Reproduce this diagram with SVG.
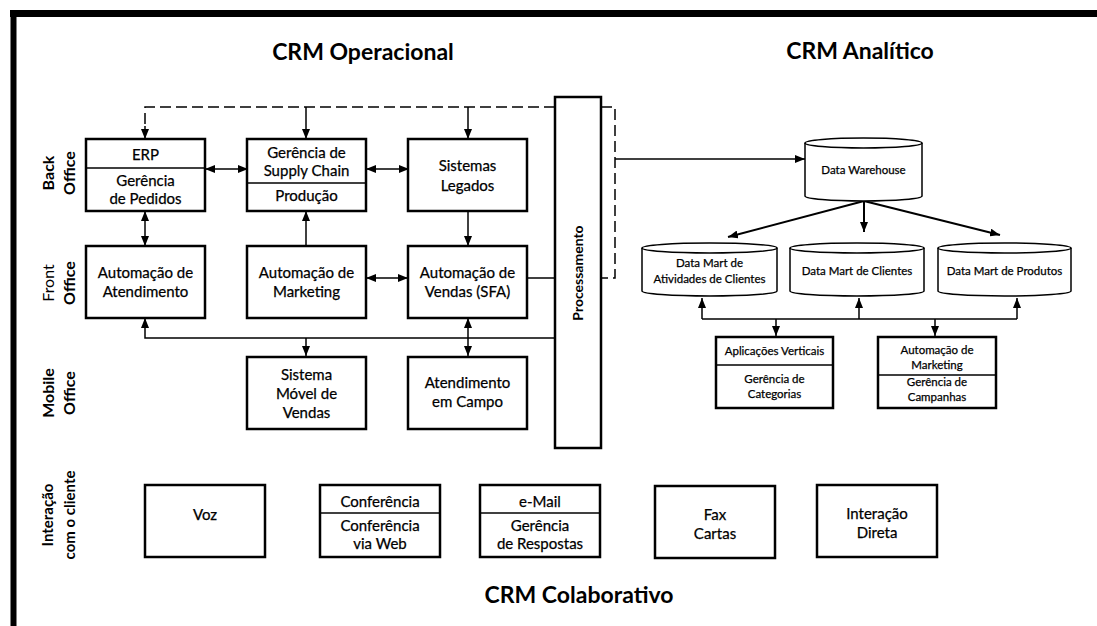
<svg xmlns="http://www.w3.org/2000/svg" width="1097" height="626" viewBox="0 0 1097 626">
<style>
.t{font-family:Lato,"Liberation Sans",sans-serif;font-size:15px;text-anchor:middle;fill:#000;stroke:#000;stroke-width:0.25}
.s{font-size:11.5px}
.h{font-family:Lato,"Liberation Sans",sans-serif;font-size:23px;font-weight:bold;text-anchor:middle;fill:#000}
.lab{font-family:Lato,"Liberation Sans",sans-serif;font-size:16px;font-weight:bold;text-anchor:middle;fill:#000}
.box{fill:#fff;stroke:#000;stroke-width:2.5}
.sbox{fill:#fff;stroke:#000;stroke-width:2.5}
.div{stroke:#000;stroke-width:1.5}
.ln{stroke:#000;stroke-width:1.5;fill:none}
.dash{stroke:#000;stroke-width:1.5;fill:none;stroke-dasharray:11 5}
.cyl{fill:#fff;stroke:#000;stroke-width:1.5}
</style>
<defs>
<marker id="ah" viewBox="0 0 10 8" refX="10" refY="4" markerWidth="10" markerHeight="8" markerUnits="userSpaceOnUse" orient="auto-start-reverse">
<path d="M0,0 L10,4 L0,8 z" fill="#000"/>
</marker>
</defs>
<rect x="0" y="0" width="1097" height="626" fill="#fff"/>
<g id="frame">
<line x1="10" y1="13.5" x2="1097" y2="13.5" stroke="#000" stroke-width="7"/>
<line x1="13.5" y1="10" x2="13.5" y2="626" stroke="#000" stroke-width="6"/>
</g>
<g id="titles">
<text class="h" x="363" y="60">CRM Operacional</text>
<text class="h" x="860" y="59">CRM Analítico</text>
<text class="h" x="579" y="603">CRM Colaborativo</text>
</g>
<g id="side-labels">
<text class="lab" transform="translate(54,173) rotate(-90)"><tspan x="0" y="0">Back</tspan><tspan x="0" y="21">Office</tspan></text>
<text class="lab" style="font-weight:normal" transform="translate(54,283) rotate(-90)"><tspan x="0" y="0">Front</tspan><tspan x="0" y="21" style="font-weight:bold">Office</tspan></text>
<text class="lab" transform="translate(54,393) rotate(-90)"><tspan x="0" y="0">Mobile</tspan><tspan x="0" y="21">Office</tspan></text>
<text class="lab" style="font-size:15px" transform="translate(53,515) rotate(-90)"><tspan x="0" y="0">Interação</tspan><tspan x="0" y="22">com o cliente</tspan></text>
</g>
<g id="connectors">
<path class="dash" d="M555,107 H145 V128"/>
<line class="ln" x1="145" y1="126" x2="145" y2="139" marker-end="url(#ah)"/>
<line class="ln" x1="306" y1="107" x2="306" y2="139" marker-end="url(#ah)"/>
<line class="ln" x1="468" y1="107" x2="468" y2="139" marker-end="url(#ah)"/>
<path class="dash" d="M601,107 H615 V278 H601"/>
<line class="ln" x1="615" y1="159" x2="805" y2="159" marker-end="url(#ah)"/>
<line class="ln" x1="205" y1="169" x2="248" y2="169" marker-start="url(#ah)" marker-end="url(#ah)"/>
<line class="ln" x1="366" y1="169" x2="409" y2="169" marker-start="url(#ah)" marker-end="url(#ah)"/>
<line class="ln" x1="145" y1="211" x2="145" y2="246" marker-start="url(#ah)" marker-end="url(#ah)"/>
<line class="ln" x1="306" y1="246" x2="306" y2="211" marker-end="url(#ah)"/>
<line class="ln" x1="468" y1="211" x2="468" y2="246" marker-end="url(#ah)"/>
<line class="ln" x1="366" y1="278" x2="408" y2="278" marker-start="url(#ah)" marker-end="url(#ah)"/>
<line class="ln" x1="527" y1="278" x2="555" y2="278"/>
<path class="ln" d="M555,338 H145 V318" marker-end="url(#ah)"/>
<line class="ln" x1="306" y1="338" x2="306" y2="356" marker-end="url(#ah)"/>
<line class="ln" x1="468" y1="318" x2="468" y2="356" marker-start="url(#ah)" marker-end="url(#ah)"/>
<line class="ln" style="stroke-width:2" x1="864" y1="201" x2="728" y2="237" marker-end="url(#ah)"/>
<line class="ln" style="stroke-width:2" x1="864" y1="201" x2="864" y2="232" marker-end="url(#ah)"/>
<line class="ln" style="stroke-width:2" x1="864" y1="201" x2="1000" y2="235" marker-end="url(#ah)"/>
<path class="ln" d="M702,319 H1017"/>
<line class="ln" x1="702" y1="319" x2="702" y2="298" marker-end="url(#ah)"/>
<line class="ln" x1="859" y1="319" x2="859" y2="298" marker-end="url(#ah)"/>
<line class="ln" x1="1017" y1="319" x2="1017" y2="298" marker-end="url(#ah)"/>
<line class="ln" x1="776" y1="319" x2="776" y2="336" marker-end="url(#ah)"/>
<line class="ln" x1="935" y1="319" x2="935" y2="336" marker-end="url(#ah)"/>
</g>
<g id="processamento">
<rect class="box" x="555" y="97" width="46" height="351"/>
<text class="t" style="font-size:14px;font-weight:bold;stroke-width:0" transform="translate(583,273) rotate(-90)">Processamento</text>
</g>
<g id="erp">
<rect class="box" x="86" y="139" width="119" height="72"/>
<line class="div" x1="86" y1="168" x2="205" y2="168"/>
<text class="t" x="145.5" y="160">ERP</text>
<text class="t" x="145.5" y="186">Gerência</text>
<text class="t" x="145.5" y="204">de Pedidos</text>
</g>
<g id="supply-chain">
<rect class="box" x="247" y="139" width="119" height="72"/>
<line class="div" x1="247" y1="183" x2="366" y2="183"/>
<text class="t" x="306.5" y="158">Gerência de</text>
<text class="t" x="306.5" y="176">Supply Chain</text>
<text class="t" x="306.5" y="201">Produção</text>
</g>
<g id="legados">
<rect class="box" x="408" y="139" width="119" height="72"/>
<text class="t" x="467.5" y="171">Sistemas</text>
<text class="t" x="467.5" y="191">Legados</text>
</g>
<g id="atendimento">
<rect class="box" x="86" y="246" width="119" height="72"/>
<text class="t" x="145.5" y="278">Automação de</text>
<text class="t" x="145.5" y="297">Atendimento</text>
</g>
<g id="marketing">
<rect class="box" x="247" y="246" width="119" height="72"/>
<text class="t" x="306.5" y="278">Automação de</text>
<text class="t" x="306.5" y="297">Marketing</text>
</g>
<g id="vendas">
<rect class="box" x="408" y="246" width="119" height="72"/>
<text class="t" x="467.5" y="278">Automação de</text>
<text class="t" x="467.5" y="297">Vendas (SFA)</text>
</g>
<g id="movel">
<rect class="box" x="247" y="357" width="119" height="72"/>
<text class="t" x="306.5" y="380">Sistema</text>
<text class="t" x="306.5" y="399">Móvel de</text>
<text class="t" x="306.5" y="418">Vendas</text>
</g>
<g id="campo">
<rect class="box" x="408" y="357" width="119" height="72"/>
<text class="t" x="467.5" y="388">Atendimento</text>
<text class="t" x="467.5" y="407">em Campo</text>
</g>
<g id="data-warehouse">
<path class="cyl" d="M805,143 V196 A58.5,5 0 0 0 922,196 V143"/>
<ellipse class="cyl" cx="863.5" cy="143" rx="58.5" ry="5"/>
<text class="t s" x="863.5" y="174">Data Warehouse</text>
</g>
<g id="dm-atividades">
<path class="cyl" d="M642,248 V291 A67.5,5 0 0 0 777,291 V248"/>
<ellipse class="cyl" cx="709.5" cy="248" rx="67.5" ry="5"/>
<text class="t s" x="709.5" y="267">Data Mart de</text>
<text class="t s" x="709.5" y="283">Atividades de Clientes</text>
</g>
<g id="dm-clientes">
<path class="cyl" d="M790,248 V291 A67,5 0 0 0 924,291 V248"/>
<ellipse class="cyl" cx="857" cy="248" rx="67" ry="5"/>
<text class="t s" x="857" y="275">Data Mart de Clientes</text>
</g>
<g id="dm-produtos">
<path class="cyl" d="M938,248 V291 A66.5,5 0 0 0 1071,291 V248"/>
<ellipse class="cyl" cx="1004.5" cy="248" rx="66.5" ry="5"/>
<text class="t s" x="1004.5" y="275">Data Mart de Produtos</text>
</g>
<g id="aplicacoes">
<rect class="sbox" x="716" y="337" width="117" height="71"/>
<line class="div" x1="716" y1="365" x2="833" y2="365"/>
<text class="t s" x="774.5" y="355">Aplicações Verticais</text>
<text class="t s" x="774.5" y="383">Gerência de</text>
<text class="t s" x="774.5" y="398">Categorias</text>
</g>
<g id="automacao-mkt">
<rect class="sbox" x="878" y="337" width="118" height="71"/>
<line class="div" x1="878" y1="375" x2="996" y2="375"/>
<text class="t s" x="937" y="354">Automação de</text>
<text class="t s" x="937" y="369">Marketing</text>
<text class="t s" x="937" y="386">Gerência de</text>
<text class="t s" x="937" y="401">Campanhas</text>
</g>
<g id="voz">
<rect class="box" x="145" y="485" width="120" height="72"/>
<text class="t" x="205" y="520">Voz</text>
</g>
<g id="conferencia">
<rect class="box" x="320" y="485" width="120" height="72"/>
<line class="div" x1="320" y1="513" x2="440" y2="513"/>
<text class="t" x="380" y="507">Conferência</text>
<text class="t" x="380" y="531">Conferência</text>
<text class="t" x="380" y="549">via Web</text>
</g>
<g id="email">
<rect class="box" x="480" y="485" width="120" height="72"/>
<line class="div" x1="480" y1="513" x2="600" y2="513"/>
<text class="t" x="540" y="507">e-Mail</text>
<text class="t" x="540" y="531">Gerência</text>
<text class="t" x="540" y="549">de Respostas</text>
</g>
<g id="fax">
<rect class="box" x="655" y="486" width="120" height="72"/>
<text class="t" x="715" y="520">Fax</text>
<text class="t" x="715" y="539">Cartas</text>
</g>
<g id="interacao">
<rect class="box" x="817" y="485" width="120" height="72"/>
<text class="t" x="877" y="519">Interação</text>
<text class="t" x="877" y="538">Direta</text>
</g>
</svg>
